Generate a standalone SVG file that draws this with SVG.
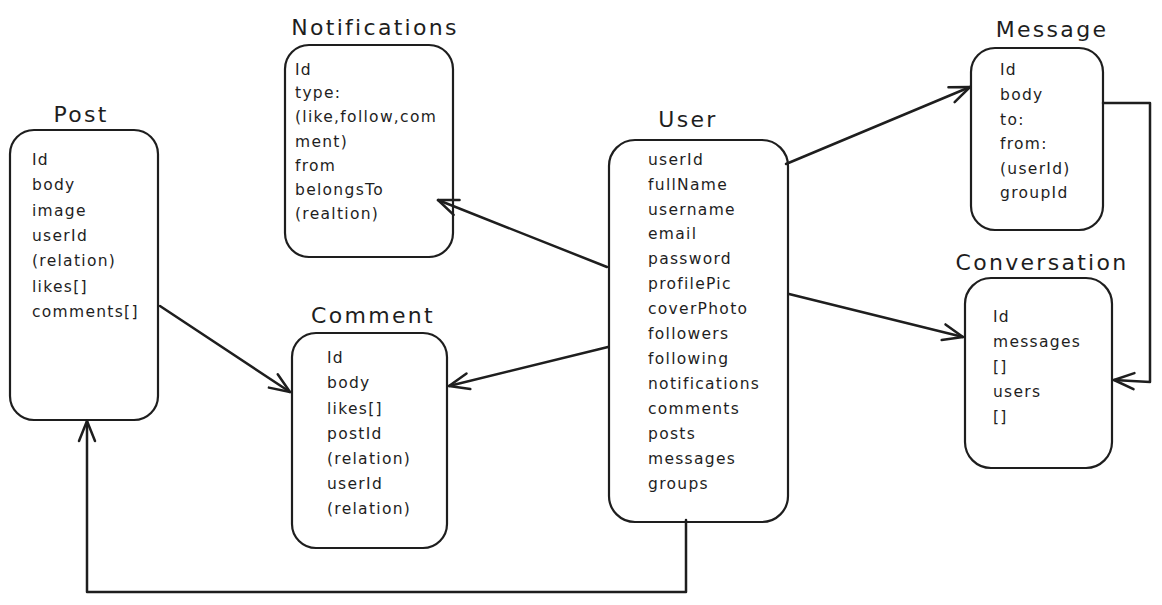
<svg xmlns="http://www.w3.org/2000/svg" width="1162" height="605" viewBox="0 0 1162 605">
<style>
.box{fill:#ffffff;stroke:#1e1e1e;stroke-width:2.2}
.title{font-family:"DejaVu Sans","Liberation Sans",sans-serif;font-size:22px;fill:#1e1e1e;text-anchor:middle;letter-spacing:2.3px}
.f{font-family:"DejaVu Sans","Liberation Sans",sans-serif;font-size:15.5px;fill:#1e1e1e;letter-spacing:1.3px}
.edge{fill:none;stroke:#1e1e1e;stroke-width:2.5;stroke-linecap:round;stroke-linejoin:round}
</style>
<defs>
<marker id="ah" viewBox="0 0 24 20" refX="22" refY="10" markerWidth="24" markerHeight="20" orient="auto" markerUnits="userSpaceOnUse">
<path d="M2,2 L22,10 L2,18" fill="none" stroke="#1e1e1e" stroke-width="2.5" stroke-linecap="round" stroke-linejoin="round"/>
</marker>
</defs>
<rect width="1162" height="605" fill="#ffffff"/>

<g id="post">
<text class="title" x="81" y="122">Post</text>
<rect class="box" x="10" y="130" width="148" height="290" rx="24"/>
<text class="f" x="32" y="165">Id</text>
<text class="f" x="32" y="190">body</text>
<text class="f" x="32" y="216">image</text>
<text class="f" x="32" y="241">userId</text>
<text class="f" x="32" y="266">(relation)</text>
<text class="f" x="32" y="292">likes[]</text>
<text class="f" x="32" y="317">comments[]</text>
</g>

<g id="notifications">
<text class="title" x="375" y="35">Notifications</text>
<rect class="box" x="285" y="45" width="168" height="212" rx="24"/>
<text class="f" x="295" y="75">Id</text>
<text class="f" x="295" y="98">type:</text>
<text class="f" x="295" y="122">(like,follow,com</text>
<text class="f" x="295" y="147">ment)</text>
<text class="f" x="295" y="171">from</text>
<text class="f" x="295" y="195">belongsTo</text>
<text class="f" x="295" y="219">(realtion)</text>
</g>

<g id="comment">
<text class="title" x="373" y="323">Comment</text>
<rect class="box" x="292" y="333" width="155" height="215" rx="24"/>
<text class="f" x="327" y="363">Id</text>
<text class="f" x="327" y="388">body</text>
<text class="f" x="327" y="414">likes[]</text>
<text class="f" x="327" y="439">postId</text>
<text class="f" x="327" y="464">(relation)</text>
<text class="f" x="327" y="489">userId</text>
<text class="f" x="327" y="514">(relation)</text>
</g>

<g id="user">
<text class="title" x="688" y="127">User</text>
<rect class="box" x="609" y="140" width="179" height="382" rx="26"/>
<text class="f" x="648" y="165">userId</text>
<text class="f" x="648" y="190">fullName</text>
<text class="f" x="648" y="215">username</text>
<text class="f" x="648" y="239">email</text>
<text class="f" x="648" y="264">password</text>
<text class="f" x="648" y="289">profilePic</text>
<text class="f" x="648" y="314">coverPhoto</text>
<text class="f" x="648" y="339">followers</text>
<text class="f" x="648" y="364">following</text>
<text class="f" x="648" y="389">notifications</text>
<text class="f" x="648" y="414">comments</text>
<text class="f" x="648" y="439">posts</text>
<text class="f" x="648" y="464">messages</text>
<text class="f" x="648" y="489">groups</text>
</g>

<g id="message">
<text class="title" x="1052" y="37">Message</text>
<rect class="box" x="971" y="48" width="132" height="182" rx="24"/>
<text class="f" x="1000" y="75">Id</text>
<text class="f" x="1000" y="100">body</text>
<text class="f" x="1000" y="125">to:</text>
<text class="f" x="1000" y="149">from:</text>
<text class="f" x="1000" y="174">(userId)</text>
<text class="f" x="1000" y="198">groupId</text>
</g>

<g id="conversation">
<text class="title" x="1042" y="270">Conversation</text>
<rect class="box" x="965" y="278" width="147" height="190" rx="26"/>
<text class="f" x="993" y="322">Id</text>
<text class="f" x="993" y="347">messages</text>
<text class="f" x="993" y="372">[]</text>
<text class="f" x="993" y="397">users</text>
<text class="f" x="993" y="422">[]</text>
</g>

<g id="connectors">
<path class="edge" d="M160,306 L290,392" marker-end="url(#ah)"/>
<path class="edge" d="M607,267 L438,200" marker-end="url(#ah)"/>
<path class="edge" d="M608,347 L449,386" marker-end="url(#ah)"/>
<path class="edge" d="M786,164 L970,87" marker-end="url(#ah)"/>
<path class="edge" d="M789,294 L963,337" marker-end="url(#ah)"/>
<path class="edge" d="M1103,103 L1150,103 L1150,382 L1114,380" marker-end="url(#ah)"/>
<path class="edge" d="M686,520 L686,592 L87,592 L87,421" marker-end="url(#ah)"/>
</g>
</svg>
